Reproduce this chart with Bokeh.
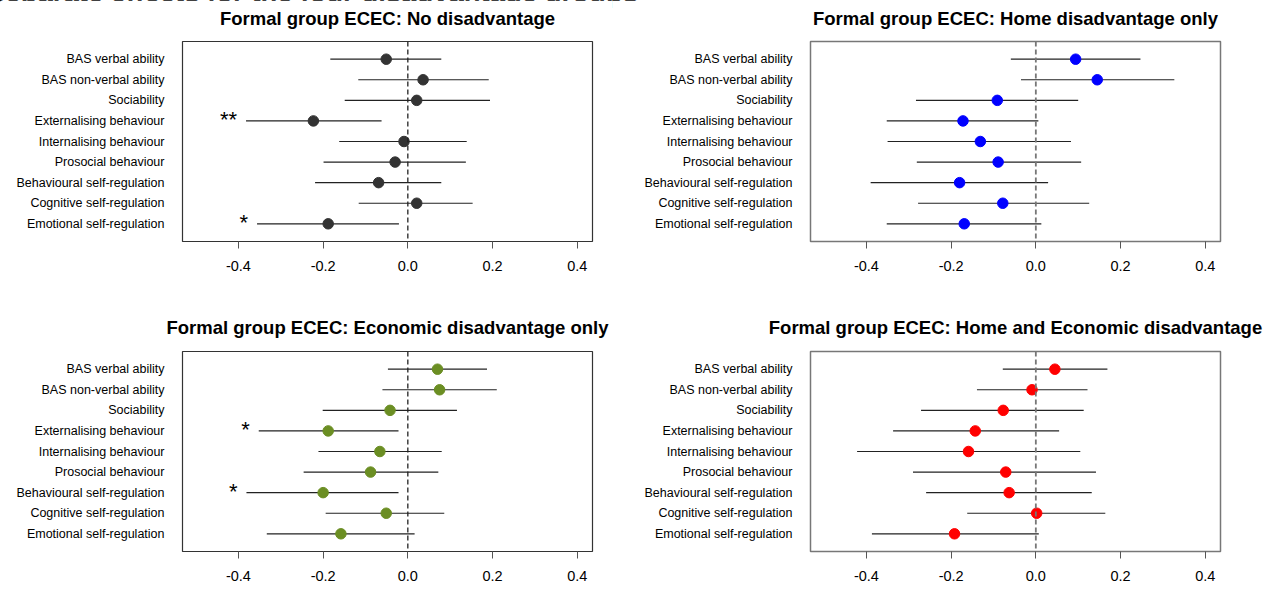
from bokeh.plotting import figure
from bokeh.layouts import gridplot, column
from bokeh.models import (FixedTicker, ColumnDataSource, Span, Div,
                          PrintfTickFormatter, LinearAxis)
from bokeh.embed import file_html
from bokeh.resources import INLINE
from bokeh.core.properties import value

FONT = "Liberation Sans"

outcomes = [
    "BAS verbal ability",
    "BAS non-verbal ability",
    "Sociability",
    "Externalising behaviour",
    "Internalising behaviour",
    "Prosocial behaviour",
    "Behavioural self-regulation",
    "Cognitive self-regulation",
    "Emotional self-regulation",
]

x_ticks = [-0.4, -0.2, 0.0, 0.2, 0.4]

# Panel 1: No disadvantage
none_title = "Formal group ECEC: No disadvantage"
none_est = [-0.051, 0.036, 0.021, -0.223, -0.009, -0.030, -0.069, 0.021, -0.188]
none_lo = [-0.183, -0.117, -0.149, -0.382, -0.162, -0.199, -0.219, -0.116, -0.356]
none_hi = [0.079, 0.191, 0.194, -0.062, 0.139, 0.137, 0.079, 0.153, -0.021]
none_sig = ["", "", "", "**", "", "", "", "", "*"]

# Panel 2: Home disadvantage only
home_title = "Formal group ECEC: Home disadvantage only"
home_est = [0.094, 0.145, -0.091, -0.172, -0.131, -0.089, -0.180, -0.078, -0.169]
home_lo = [-0.059, -0.035, -0.283, -0.352, -0.350, -0.281, -0.390, -0.278, -0.352]
home_hi = [0.247, 0.327, 0.100, 0.006, 0.083, 0.107, 0.029, 0.126, 0.013]
home_sig = ["", "", "", "", "", "", "", "", ""]

# Panel 3: Economic disadvantage only
econ_title = "Formal group ECEC: Economic disadvantage only"
econ_est = [0.070, 0.075, -0.042, -0.188, -0.066, -0.088, -0.200, -0.051, -0.158]
econ_lo = [-0.047, -0.060, -0.201, -0.352, -0.211, -0.246, -0.381, -0.194, -0.333]
econ_hi = [0.187, 0.210, 0.116, -0.022, 0.080, 0.072, -0.022, 0.086, 0.016]
econ_sig = ["", "", "", "*", "", "", "*", "", ""]

# Panel 4: Home and Economic disadvantage
both_title = "Formal group ECEC: Home and Economic disadvantage"
both_est = [0.045, -0.009, -0.077, -0.143, -0.159, -0.071, -0.063, 0.002, -0.192]
both_lo = [-0.078, -0.139, -0.271, -0.337, -0.422, -0.290, -0.259, -0.162, -0.387]
both_hi = [0.169, 0.122, 0.113, 0.055, 0.105, 0.142, 0.132, 0.164, 0.007]
both_sig = ["", "", "", "", "", "", "", "", ""]

colors = ["#333333", "#0000FF", "#6B8E23", "#FF0000"]

FRAME_W = 410
FRAME_H = 200


def make_panel(title, est, lo, hi, sig, color, left_border, right_border,
               top_border, bottom_border, title_standoff, dark):
    n = len(outcomes)
    ypos = [n - i for i in range(n)]
    src = ColumnDataSource(dict(y=ypos, est=est, lo=lo, hi=hi, sig=sig))
    p = figure(frame_width=FRAME_W, frame_height=FRAME_H,
               x_range=(-0.532, 0.436), y_range=(0.14, 9.86),
               output_backend="svg", toolbar_location=None,
               min_border_left=left_border, min_border_right=right_border,
               min_border_top=top_border, min_border_bottom=bottom_border,
               background_fill_color="white", border_fill_color="white")

    # panel title, drawn as the label of an otherwise empty axis above the frame
    top_ax = LinearAxis(ticker=FixedTicker(ticks=[]), axis_label=title)
    top_ax.axis_line_color = None
    top_ax.major_tick_line_color = None
    top_ax.minor_tick_line_color = None
    top_ax.major_tick_out = 0
    top_ax.major_tick_in = 0
    top_ax.major_label_standoff = 0
    top_ax.major_label_text_font_size = "0px"
    top_ax.axis_label_standoff = title_standoff
    top_ax.axis_label_text_font = FONT
    top_ax.axis_label_text_font_size = "18.5px"
    top_ax.axis_label_text_font_style = "bold"
    top_ax.axis_label_text_color = "black"
    p.add_layout(top_ax, "above")

    p.xgrid.visible = False
    p.ygrid.visible = False
    p.outline_line_color = "#333333" if dark else "#777777"
    p.outline_line_width = 1.2 if dark else 1.5
    p.outline_line_alpha = 1.0

    # x axis
    xax = p.below[0]
    xax.ticker = FixedTicker(ticks=x_ticks)
    xax.formatter = PrintfTickFormatter(format="%.1f")
    xax.axis_line_color = None
    xax.major_tick_out = 7
    xax.major_tick_in = 0
    xax.major_tick_line_color = "#555555"
    xax.minor_tick_line_color = None
    xax.major_label_text_font = FONT
    xax.major_label_text_font_size = "14.5px"
    xax.major_label_text_color = "black"
    xax.major_label_standoff = 12

    # y axis
    p.yaxis.ticker = FixedTicker(ticks=ypos)
    p.yaxis.major_label_overrides = {y: lab for y, lab in zip(ypos, outcomes)}
    p.yaxis.axis_line_color = None
    p.yaxis.major_tick_line_color = None
    p.yaxis.minor_tick_line_color = None
    p.yaxis.major_tick_out = 0
    p.yaxis.major_tick_in = 0
    p.yaxis.major_label_text_font = FONT
    p.yaxis.major_label_text_font_size = "12.5px"
    p.yaxis.major_label_text_color = "black"
    p.yaxis.major_label_standoff = 18

    p.add_layout(Span(location=0, dimension="height",
                      line_color="#222222" if dark else "#777777",
                      line_width=1.3 if dark else 1.8, line_dash="5 3"))

    p.segment(x0="lo", y0="y", x1="hi", y1="y", source=src,
              line_color="#222222", line_width=1.2)
    p.scatter(x="est", y="y", source=src, size=10.5,
              fill_color=color, line_color=color)
    p.text(x="lo", y="y", text="sig", source=src, text_align="right",
           text_baseline="middle", x_offset=-9, y_offset=-1,
           text_font=value(FONT), text_font_size="22px", text_color="black")
    return p


p1 = make_panel(none_title, none_est, none_lo, none_hi, none_sig, colors[0],
                182, 20, 41, 59, 13, True)
p2 = make_panel(home_title, home_est, home_lo, home_hi, home_sig, colors[1],
                198, 46, 41, 59, 13, False)
p3 = make_panel(econ_title, econ_est, econ_lo, econ_hi, econ_sig, colors[2],
                182, 20, 51, 31, 14, True)
p4 = make_panel(both_title, both_est, both_lo, both_hi, both_sig, colors[3],
                198, 46, 51, 31, 14, False)

grid = gridplot([[p1, p2], [p3, p4]], toolbar_location=None)

main_title = Div(
    text='<span style="position:relative; top:5px; left:-13px;">Separate effects for the four disadvantage groups</span>',
    width=700, height=24, margin=(-24, 0, 0, 0),
    styles={"font-family": FONT, "font-weight": "bold", "font-size": "27.5px",
            "line-height": "24px", "white-space": "nowrap", "color": "black"})

layout = column(main_title, grid)

with open("out.html", "w") as f:
    f.write(file_html(layout, INLINE))
